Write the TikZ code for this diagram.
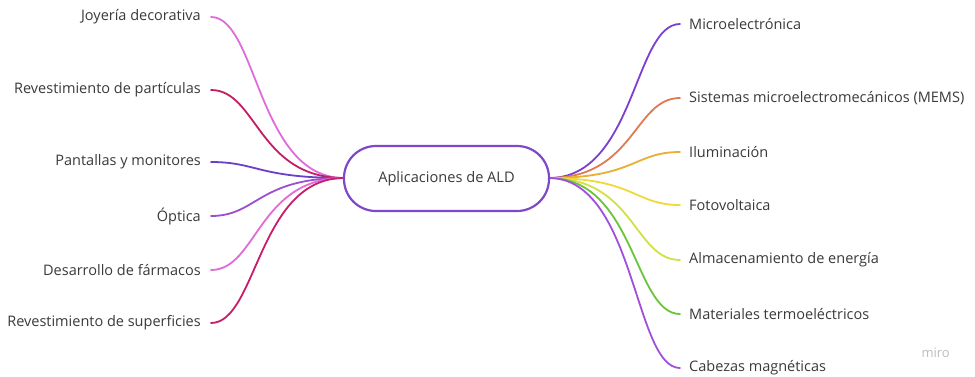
\documentclass[tikz,border=0pt]{standalone}
\usepackage{fontspec}
\setmainfont{Open Sans}
\definecolor{txt}{HTML}{3A3A3A}
\definecolor{cborder}{HTML}{7E48C9}
\definecolor{cjoy}{HTML}{E06CDB}
\definecolor{cpart}{HTML}{C41D63}
\definecolor{cpant}{HTML}{6C3FC8}
\definecolor{copt}{HTML}{9C4FD0}
\definecolor{cfar}{HTML}{E26BD6}
\definecolor{csup}{HTML}{C81D6A}
\definecolor{cmic}{HTML}{7B3FD1}
\definecolor{cmem}{HTML}{E07A52}
\definecolor{cilu}{HTML}{E9AF2F}
\definecolor{cfot}{HTML}{F1D93A}
\definecolor{calm}{HTML}{D3E044}
\definecolor{cmat}{HTML}{6BC43A}
\definecolor{ccab}{HTML}{A24FDC}
\definecolor{logo}{HTML}{BDBDBD}
\tikzset{
  lab/.style={text=txt, font=\fontsize{14.5}{17}\selectfont, inner xsep=10pt, inner ysep=2pt},
  llab/.style={lab, anchor=east},
  rlab/.style={lab, anchor=west, inner xsep=9pt},
  branch/.style={line width=1.8pt, line cap=round},
  hub/.style={draw=cborder, line width=2.2pt, rounded corners=32pt, minimum width=205pt, minimum height=65pt, text=txt, font=\fontsize{14.6}{17}\selectfont, fill=white}
}
\begin{document}
\begin{tikzpicture}[x=1pt,y=-1pt]
\useasboundingbox[fill=white] (0,0) rectangle (975,376);
% left labels
\node[llab] (l1) at (211,17) {Joyería decorativa};
\node[llab] (l2) at (211,90) {Revestimiento de partículas};
\node[llab] (l3) at (211,162) {Pantallas y monitores};
\node[llab] (l4) at (211,216) {Óptica};
\node[llab] (l5) at (211,270) {Desarrollo de fármacos};
\node[llab] (l6) at (211,323) {Revestimiento de superficies};
% right labels
\node[rlab] (r1) at (680,24) {Microelectrónica};
\node[rlab] (r2) at (680,98) {Sistemas microelectromecánicos (MEMS)};
\node[rlab] (r3) at (680,152) {Iluminación};
\node[rlab] (r4) at (680,205) {Fotovoltaica};
\node[rlab] (r5) at (680,260) {Almacenamiento de energía};
\node[rlab] (r6) at (680,314) {Materiales termoeléctricos};
\node[rlab] (r7) at (680,368) {Cabezas magnéticas};
% centre coordinates for branches
\coordinate (cw) at (344,178);
\coordinate (ce) at (549,178);
% left branches
\draw[branch, cjoy]  (cw) .. controls +(-86,0) and +(46,0) .. (l1.east);
\draw[branch, cpart] (cw) .. controls +(-86,0) and +(46,0) .. (l2.east);
\draw[branch, cpant] (cw) .. controls +(-86,0) and +(46,0) .. (l3.east);
\draw[branch, copt]  (cw) .. controls +(-86,0) and +(46,0) .. (l4.east);
\draw[branch, cfar]  (cw) .. controls +(-86,0) and +(46,0) .. (l5.east);
\draw[branch, csup]  (cw) .. controls +(-86,0) and +(46,0) .. (l6.east);
% right branches
\draw[branch, cmic] (ce) .. controls +(86,0) and +(-46,0) .. (r1.west);
\draw[branch, cmem] (ce) .. controls +(86,0) and +(-46,0) .. (r2.west);
\draw[branch, cilu] (ce) .. controls +(86,0) and +(-46,0) .. (r3.west);
\draw[branch, cfot] (ce) .. controls +(86,0) and +(-46,0) .. (r4.west);
\draw[branch, calm] (ce) .. controls +(86,0) and +(-46,0) .. (r5.west);
\draw[branch, cmat] (ce) .. controls +(86,0) and +(-46,0) .. (r6.west);
\draw[branch, ccab] (ce) .. controls +(86,0) and +(-46,0) .. (r7.west);
% hub
\node[hub] (c) at (446.5,178.5) {Aplicaciones de ALD};
% logo
\node[text=logo, font=\fontsize{13}{15}\selectfont, anchor=east, inner sep=0pt] (miro) at (950,353) {miro};
\end{tikzpicture}
\end{document}
